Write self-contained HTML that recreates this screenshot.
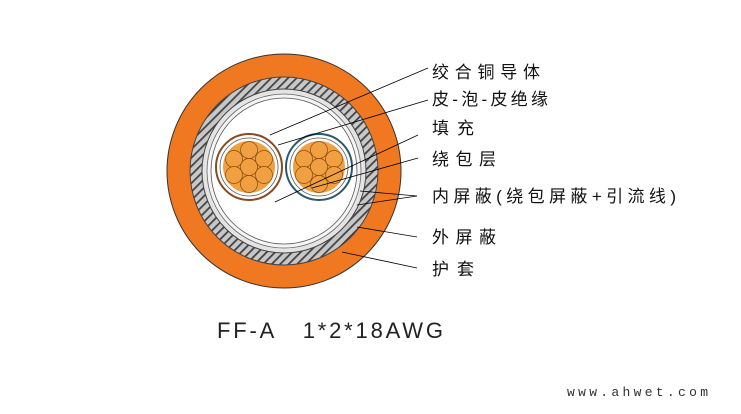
<!DOCTYPE html><html><head><style>body{margin:0;background:#fff;width:741px;height:409px;overflow:hidden}</style></head><body>
<svg width="741" height="409" xmlns="http://www.w3.org/2000/svg">
<defs><pattern id="h" width="6" height="6" patternUnits="userSpaceOnUse" patternTransform="rotate(45)"><rect width="6" height="6" fill="#c8c8c8"/><rect width="1.8" height="6" fill="#444"/></pattern></defs>
<circle cx="284" cy="171" r="117" fill="#f07820" stroke="#333" stroke-width="1"/>
<circle cx="284" cy="171" r="94" fill="url(#h)" stroke="#444" stroke-width="1"/>
<circle cx="284" cy="171" r="82" fill="#e4e4e4" stroke="#444" stroke-width="1"/>
<circle cx="284" cy="171" r="77" fill="#f4f4f4" stroke="#666" stroke-width="0.8"/>
<circle cx="284" cy="171" r="73" fill="#fff" stroke="#555" stroke-width="0.8"/>
<circle cx="249" cy="167" r="33" fill="#fff" stroke="#8a4a20" stroke-width="2"/>
<circle cx="249" cy="167" r="29" fill="#fff" stroke="#555" stroke-width="0.8"/>
<circle cx="249" cy="167" r="26" fill="#f0a040"/>
<circle cx="319" cy="167" r="33" fill="#fff" stroke="#2a5a6a" stroke-width="2"/>
<circle cx="319" cy="167" r="29" fill="#fff" stroke="#555" stroke-width="0.8"/>
<circle cx="319" cy="167" r="26" fill="#f0a040"/>
<g fill="#f0a040" stroke="#8a4a10" stroke-width="0.7">
<circle cx="249" cy="167" r="8.5"/><circle cx="249" cy="150" r="8.5"/><circle cx="249" cy="184" r="8.5"/><circle cx="234" cy="159" r="8.5"/><circle cx="264" cy="159" r="8.5"/><circle cx="234" cy="175" r="8.5"/><circle cx="264" cy="175" r="8.5"/>
<circle cx="319" cy="167" r="8.5"/><circle cx="319" cy="150" r="8.5"/><circle cx="319" cy="184" r="8.5"/><circle cx="304" cy="159" r="8.5"/><circle cx="334" cy="159" r="8.5"/><circle cx="304" cy="175" r="8.5"/><circle cx="334" cy="175" r="8.5"/>
</g>
<g stroke="#000" stroke-width="0.8">
<line x1="428" y1="68" x2="270" y2="135"/>
<line x1="428" y1="100" x2="278" y2="145"/>
<line x1="418" y1="135" x2="275" y2="202"/>
<line x1="418" y1="158" x2="312" y2="188"/>
<line x1="417" y1="196" x2="360" y2="191"/>
<line x1="417" y1="196" x2="357" y2="205"/>
<line x1="417" y1="237" x2="357" y2="227"/>
<line x1="417" y1="268" x2="342" y2="252"/>
</g>
<g font-family="'Liberation Sans','Noto Sans CJK SC',sans-serif" font-size="17" fill="#111" lengthAdjust="spacing">
<text x="432" y="78" textLength="108">绞合铜导体</text>
<text x="432" y="105" textLength="116">皮-泡-皮绝缘</text>
<text x="432" y="134" textLength="42">填充</text>
<text x="432" y="165" textLength="64">绕包层</text>
<text x="432" y="202" textLength="244">内屏蔽(绕包屏蔽+引流线)</text>
<text x="432" y="243" textLength="64">外屏蔽</text>
<text x="432" y="275" textLength="42">护套</text>
</g>
<text x="217" y="338" font-family="'Liberation Sans',sans-serif" font-size="22" fill="#222" xml:space="preserve" textLength="226" lengthAdjust="spacing">FF-A   1*2*18AWG</text>
<text x="567" y="396" font-family="'Liberation Mono',monospace" font-size="13" fill="#333" textLength="141" lengthAdjust="spacing">www.ahwet.com</text>
</svg></body></html>
